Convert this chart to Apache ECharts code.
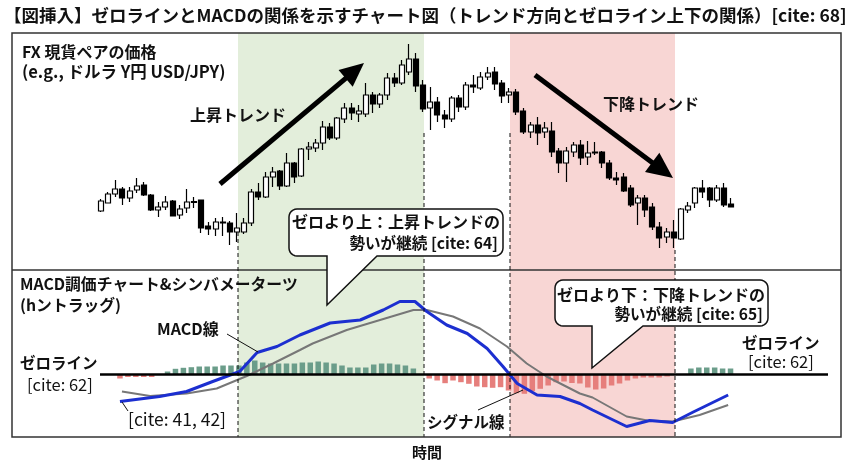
<!DOCTYPE html>
<html><head><meta charset="utf-8">
<script src="https://cdn.jsdelivr.net/npm/echarts@6/dist/echarts.min.js"></script>
<style>html,body{margin:0;padding:0;background:#fff}#c{width:854px;height:466px}</style>
</head><body><div id="c"></div>
<script>
// ---- price panel (candles: [open, close, low, high]) ----
const candleCategories = Array.from({length: 89}, (_, i) => 'T' + (i + 1));
const candles = [
 [39,49,38,51],[47,56,47,58],[56,61,53,70],[61,52,45,63],[52,59,48,63],[60,64,57,72],[65,55,54,68],[55,40,39,56],[40,43,33,48],[43,48,40,54],
 [49,34,34,50],[35,41,31,45],[42,48,37,61],[47.5,48.5,42,53],[50,22,17,50],[24,21,15,28],[21,28,14,32],[27,28,14,33],[27,18,5,29],[18,22,8,37],
 [18,27,16,32],[27,58,24,61],[58,53,50,67],[53,73,52,78],[73,78,63,83],[79,64,60,80],[64,87,63,97],[87,73,67,88],[74,101,73,102],[101,103,90,108],
 [102,107,98,111],[107,123,100,129],[123,112,110,127],[112,132,110,133],[131,142,127,147],[142,137,130,147],[136,139,128,145],[136,155,133,167],[155,146,137,158],[146,155,142,157],
 [155,172,150,177],[172,167,163,177],[167,185,165,190],[178,191,175,206],[191,164,158,197],[165,141,138,170],[142,148,120,163],[148,135,128,153],[135,131,122,140],[131,152,128,154],
 [152,143,138,155],[143,165,140,168],[165,163,157,175],[162,173,160,178],[173,177,170,183],[178,166,160,183],[167,154,147,170],[155,158,147,162],[158,138,135,161],[139,118,116,142],
 [118,125,112,128],[125,117,105,133],[118,122,112,128],[119,98,93,128],[99,87,77,102],[87,99,68,103],[98,105,93,108],[105,92,85,110],[93,97,85,109],[98,97,95,108],
 [98,87,82,99],[87,72,70,90],[72,70,65,78],[73,59,58,77],[62,45,43,65],[47,52,25,55],[52,40,33,55],[43,23,20,47],[23,12,2,28],[13,18,7,22],
 [18,12,2,30],[11,41,10,42],[40,44,37,48],[47,62,42,63],[62,58,52,70],[62,50,43,63],[50,62,48,65],[62,45,43,67],[46,43,43,52]
];
// ---- MACD panel ----
const histCategories = Array.from({length: 78}, (_, i) => 'H' + (i + 1));
const histValues = [
 -4,-2.5,-2.5,-2.5,-2.5, 0,
 3,5.7,6.7,7.3,8,8,8,9,9,9,12,14,12,11,11,11,11,12,12,13,12,11,9,7,7,7,10,11,11,10,9,6,
 0,
 -4,-6,-8.7,-6,-7.7,-9.3,-12,-12.7,-13.3,-12.7,-16,-18.7,-19.3,-16.7,-14.3,-11,-7.7,-7,-8.5,-9,-13,-15,-14,-11,-9,-6,-4,-3,-3,-3,-2,
 0,0,
 6,7,7,7,6,6
];
const macdLine = [[0,-27],[5,-22],[8.4,-17],[11.7,-7],[15.1,3],[17.3,22],[19.8,28],[22.7,39.5],[26.5,51.5],[30.3,54.5],[33.2,64.5],[35.3,73],[37.2,73],[38.7,63],[41.2,49.5],[43.8,41],[46.3,26],[48.3,8],[50.1,-9],[52.6,-20.5],[55.5,-22],[58,-29],[59.6,-35.5],[63.9,-52],[66.8,-46],[69.7,-48],[72.3,-37.5],[76.7,-20.5]];
const signalLine = [[0.25,-17],[3.8,-21.5],[8.4,-19],[12.2,-14],[16,-1.5],[19.3,11],[22.7,24.5],[24.3,31],[28.6,44.5],[32.8,54.5],[37,64.5],[38.7,64.5],[42,58],[45.4,46],[48.8,28],[51.3,11],[53.8,-2],[58,-19],[59.6,-23],[63.9,-42],[66.5,-46],[69.7,-47],[73.1,-40.5],[76.7,-30.5]];

const FONT = '"Noto Sans CJK JP", "Noto Sans", sans-serif';
function txt(x, y, s, size, weight, align) {
  return {type: 'text', x: x, y: y, z: 30, style: {text: s, font: (weight || 'bold') + ' ' + (size || 15) + 'px ' + FONT, fill: '#111', textAlign: align || 'left', textVerticalAlign: 'middle'}};
}
function line(x1, y1, x2, y2, w, dash, color) {
  return {type: 'line', z: 25, shape: {x1: x1, y1: y1, x2: x2, y2: y2}, style: {stroke: color || '#111', lineWidth: w || 1, lineDash: dash || null}};
}
function arrow(x1, y1, x2, y2, lw, hl, hw) {
  const dx = x2 - x1, dy = y2 - y1, L = Math.hypot(dx, dy), ux = dx / L, uy = dy / L;
  const bx = x2 - ux * hl, by = y2 - uy * hl, px = -uy, py = ux;
  return [
    {type: 'line', z: 20, shape: {x1: x1, y1: y1, x2: bx + ux * 2, y2: by + uy * 2}, style: {stroke: '#000', lineWidth: lw}},
    {type: 'polygon', z: 20, shape: {points: [[x2, y2], [bx + px * hw, by + py * hw], [bx - px * hw, by - py * hw]]}, style: {fill: '#000'}}
  ];
}
function arcPts(cx, cy, r, a0, a1) {
  const pts = [];
  for (let k = 0; k <= 6; k++) {
    const a = a0 + (a1 - a0) * k / 6;
    pts.push([cx + r * Math.cos(a), cy + r * Math.sin(a)]);
  }
  return pts;
}
function callout(x, y, w, h, r, t1, t2, tx, ty) {
  const b = y + h, P = Math.PI;
  let pts = [];
  pts = pts.concat(arcPts(x + r, y + r, r, P, 1.5 * P));
  pts = pts.concat(arcPts(x + w - r, y + r, r, 1.5 * P, 2 * P));
  pts = pts.concat(arcPts(x + w - r, b - r, r, 0, 0.5 * P));
  pts.push([t2, b], [tx, ty], [t1, b]);
  pts = pts.concat(arcPts(x + r, b - r, r, 0.5 * P, P));
  return {type: 'polygon', z: 28, shape: {points: pts}, style: {fill: '#fff', stroke: '#111', lineWidth: 1.5}};
}

const graphics = [
  {type: 'rect', z: 0, shape: {x: 238, y: 33, width: 186, height: 404}, style: {fill: '#e3eedb'}},
  {type: 'rect', z: 0, shape: {x: 510, y: 33, width: 165, height: 404}, style: {fill: '#f8d6d4'}},
  {type: 'rect', z: 26, shape: {x: 12, y: 33, width: 829, height: 404}, style: {fill: 'none', stroke: '#333', lineWidth: 1.5}},
  line(12, 270, 841, 270, 1.5, null, '#333'),
  line(238, 232, 238, 437, 1, [4, 3]),
  line(424, 133, 424, 437, 1, [4, 3]),
  line(510, 133, 510, 437, 1, [4, 3]),
  line(675, 250, 675, 437, 1, [4, 3]),
  line(100, 374.5, 828, 374.5, 2.5, null, '#000'),
  txt(4, 15, '【図挿入】ゼロラインとMACDの関係を示すチャート図（トレンド方向とゼロライン上下の関係）[cite: 68]', 17.5),
  txt(22, 52, 'FX 現貨ペアの価格', 16),
  txt(22, 72, '(e.g., ドルラ Y円 USD/JPY)', 16.5),
  txt(190, 115, '上昇トレンド', 16),
  txt(603, 104, '下降トレンド', 16),
  ...arrow(220, 184, 364, 63, 5, 24, 11),
  ...arrow(535, 75, 673, 178, 5, 26, 12),
  callout(289, 209, 214, 47, 8, 327, 377, 327, 305),
  txt(500, 222, 'ゼロより上：上昇トレンドの', 16, 'bold', 'right'),
  txt(498, 243, '勢いが継続 [cite: 64]', 15.6, 'bold', 'right'),
  callout(555, 280, 213, 46, 8, 592, 643, 592, 368),
  txt(765, 295, 'ゼロより下：下降トレンドの', 16, 'bold', 'right'),
  txt(763, 314, '勢いが継続 [cite: 65]', 15.6, 'bold', 'right'),
  txt(20, 284, 'MACD調価チャート&シンバメーターツ', 15.8),
  txt(20, 305, '(hントラッグ)', 15.8),
  txt(157, 329, 'MACD線', 16),
  line(227, 334, 258, 352, 1),
  txt(20, 363, 'ゼロライン', 15.5),
  txt(27, 385, '[cite: 62]', 16.5, 'normal'),
  txt(742, 343, 'ゼロライン', 15.5),
  txt(748, 362, '[cite: 62]', 16.5, 'normal'),
  txt(128, 419, '[cite: 41, 42]', 17.5, 'normal'),
  line(122, 402, 128, 411, 1),
  txt(427, 422, 'シグナル線', 15.5),
  line(478, 410, 523, 390, 1),
  txt(427, 452, '時間', 15, 'bold', 'center')
];

const option = {
  animation: false,
  backgroundColor: '#fff',
  grid: [
    {left: 97.4, width: 637.2, top: 40, height: 210},
    {left: 116, width: 618.5, top: 289.5, height: 150}
  ],
  xAxis: [
    {type: 'category', gridIndex: 0, data: candleCategories, boundaryGap: true, show: false},
    {type: 'category', gridIndex: 1, data: histCategories, boundaryGap: true, show: false},
    {type: 'value', gridIndex: 1, min: -0.5, max: 77.5, show: false}
  ],
  yAxis: [
    {type: 'value', gridIndex: 0, min: 0, max: 210, show: false},
    {type: 'value', gridIndex: 1, min: -65, max: 85, show: false}
  ],
  series: [
    {type: 'candlestick', xAxisIndex: 0, yAxisIndex: 0, data: candles, barWidth: 5.5, z: 5,
     itemStyle: {color: '#fff', color0: '#000', borderColor: '#000', borderColor0: '#000', borderWidth: 1.2}},
    {type: 'bar', xAxisIndex: 1, yAxisIndex: 1, data: histValues, barWidth: 5.5, z: 3,
     itemStyle: {color: function (p) { return p.value >= 0 ? '#6b9d8a' : '#e67f7c'; }}},
    {type: 'line', xAxisIndex: 2, yAxisIndex: 1, data: signalLine, showSymbol: false, z: 6,
     lineStyle: {color: '#777', width: 2}},
    {type: 'line', xAxisIndex: 2, yAxisIndex: 1, data: macdLine, showSymbol: false, z: 7,
     lineStyle: {color: '#1c2fd0', width: 3}}
  ],
  graphic: graphics
};
const chart = echarts.init(document.getElementById('c'));
chart.setOption(option);
</script>
</body></html>
